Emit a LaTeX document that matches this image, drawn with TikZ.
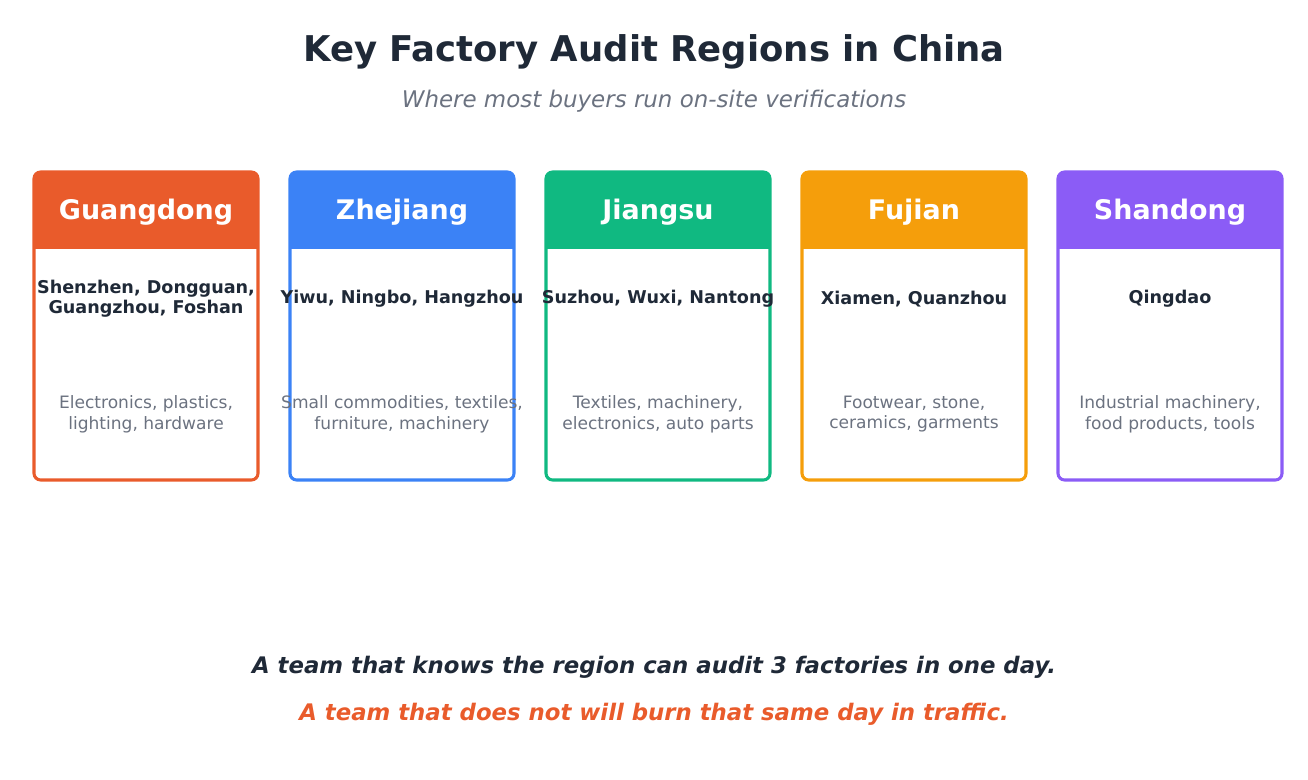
\documentclass[tikz,border=0pt]{standalone}
\usepackage{fontspec}
\setmainfont{DejaVu Sans}
\definecolor{dark}{HTML}{1F2937}
\definecolor{grey}{HTML}{6B7280}
\definecolor{c1}{HTML}{E95B2B}
\definecolor{c2}{HTML}{3B82F6}
\definecolor{c3}{HTML}{10B981}
\definecolor{c4}{HTML}{F59E0B}
\definecolor{c5}{HTML}{8B5CF6}
\begin{document}
\begin{tikzpicture}[x=0.75pt,y=-0.75pt,
  head/.style={text=white,font=\bfseries\fontsize{20.2}{22}\selectfont},
  city/.style={text=dark,font=\bfseries\fontsize{13.2}{15}\selectfont,align=center},
  prod/.style={text=grey,font=\fontsize{12.8}{15.5}\selectfont,align=center}]
\useasboundingbox (0,0) rectangle (1308,780);
\node[text=dark,font=\bfseries\fontsize{26.6}{30}\selectfont] (title) at (654,52) {Key Factory Audit Regions in China};
\node[text=grey,font=\itshape\fontsize{17.2}{20}\selectfont] (sub) at (654,101) {Where most buyers run on-site verifications};
\foreach \i/\c/\h/\ct/\p in {0/c1/Guangdong/{Shenzhen, Dongguan,\\Guangzhou, Foshan}/{Electronics, plastics,\\lighting, hardware},
 1/c2/Zhejiang/{Yiwu, Ningbo, Hangzhou}/{Small commodities, textiles,\\furniture, machinery},
 2/c3/Jiangsu/{Suzhou, Wuxi, Nantong}/{Textiles, machinery,\\electronics, auto parts},
 3/c4/Fujian/{Xiamen, Quanzhou}/{Footwear, stone,\\ceramics, garments},
 4/c5/Shandong/{Qingdao}/{Industrial machinery,\\food products, tools}}{
  \pgfmathsetmacro{\xl}{34+256*\i}
  \pgfmathsetmacro{\xr}{\xl+224}
  \pgfmathsetmacro{\xm}{\xl+112}
  \fill[\c,rounded corners=5] (\xl,249) -- (\xl,172) -- (\xr,172) -- (\xr,249) [sharp corners]-- cycle;
  \fill[\c] (\xl,240) rectangle (\xr,249);
  \draw[\c,line width=2.3pt,rounded corners=5] (\xl,172) rectangle (\xr,480);
  \node[head] (h\i) at (\xm,212) {\h};
  \node[city] (ct\i) at (\xm,299) {\ct};
  \node[prod] (p\i) at (\xm,414) {\p};
}
\node[text=dark,font=\bfseries\itshape\fontsize{17.1}{20}\selectfont] (l1) at (654,667) {A team that knows the region can audit 3 factories in one day.};
\node[text=c1,font=\bfseries\itshape\fontsize{17.1}{20}\selectfont] (l2) at (654,714) {A team that does not will burn that same day in traffic.};
\end{tikzpicture}
\end{document}
